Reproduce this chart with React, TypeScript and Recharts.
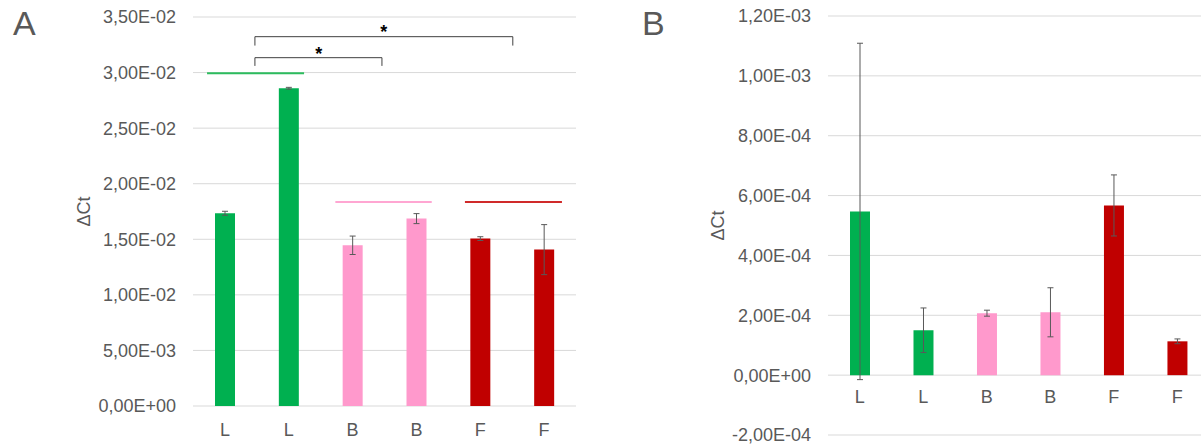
import React from 'react';
import {
  ComposedChart,
  Bar,
  Cell,
  ErrorBar,
  XAxis,
  YAxis,
  CartesianGrid,
  ReferenceLine,
  ReferenceDot,
} from 'recharts';

const labels = ['L', 'L', 'B', 'B', 'F', 'F'];
const barColors = ['#00b050', '#00b050', '#ff99cc', '#ff99cc', '#c00000', '#c00000'];

// panel A
const valuesA = [0.01734, 0.02859, 0.01446, 0.01686, 0.01506, 0.01407];
const errorsA = [0.00018, 0.00008, 0.00083, 0.00045, 0.00017, 0.00225];
const ticksA = [0, 0.005, 0.01, 0.015, 0.02, 0.025, 0.03, 0.035];
const levelsA = [
  { from: -0.28, to: 1.24, y: 0.02994 },
  { from: 1.73, to: 3.24, y: 0.01836 },
  { from: 3.76, to: 5.28, y: 0.01836 },
];
const levelColors = ['#2cbc5e', '#ffa6d2', '#d02a2a'];
const brackets = [
  { from: 0.47, to: 2.46, top: 0.03134, foot: 0.0306 },
  { from: 0.47, to: 4.51, top: 0.03323, foot: 0.03243 },
];
const stars = [
  { x: 1.47, y: 0.03167 },
  { x: 2.49, y: 0.03372 },
];

// panel B
const valuesB = [5.47e-4, 1.5e-4, 2.07e-4, 2.1e-4, 5.67e-4, 1.13e-4];
const errorsB = [5.62e-4, 0.745e-4, 0.1e-4, 0.82e-4, 1.02e-4, 0.08e-4];
const ticksB = [-2e-4, 0, 2e-4, 4e-4, 6e-4, 8e-4, 1e-3, 1.2e-3];

const dataA = labels.map((name, i) => ({ x: i, name, value: valuesA[i], err: errorsA[i] }));
const dataB = labels.map((name, i) => ({ x: i, name, value: valuesB[i], err: errorsB[i] }));
const xTicks = labels.map((_, i) => i);

// excel style 0,00E+00
const sci = (v: number) => {
  const [m, e] = v.toExponential(2).split('e');
  const ex = parseInt(e, 10);
  return `${m.replace('.', ',')}E${ex < 0 ? '-' : '+'}${String(Math.abs(ex)).padStart(2, '0')}`;
};

const grey = '#595959';
const tickStyle = { fill: grey, fontSize: 18 };
const font = '"Liberation Sans", Arial, sans-serif';

const panelLetter = (text: string, left: number) => (
  <div
    style={{
      position: 'absolute',
      left,
      top: 6,
      fontSize: 34,
      lineHeight: '34px',
      color: grey,
    }}
  >
    {text}
  </div>
);

export default function App() {
  return (
    <div style={{ position: 'absolute', left: 0, top: 0, width: 1201, height: 444, fontFamily: font, background: '#fff' }}>
      {panelLetter('A', 13)}
      {panelLetter('B', 642)}

      <div style={{ position: 'absolute', left: 0, top: 0 }}>
        <ComposedChart width={600} height={444} data={dataA} margin={{ top: 17, right: 24, bottom: 8, left: 0 }}>
          <CartesianGrid vertical={false} stroke="#d9d9d9" />
          <XAxis
            type="number"
            dataKey="x"
            domain={[-0.5, 5.5]}
            ticks={xTicks}
            interval={0}
            tickFormatter={(i: number) => labels[i]}
            axisLine={false}
            tickLine={false}
            tickSize={0}
            tickMargin={17}
            height={30}
            tick={tickStyle}
          />
          <YAxis
            domain={[0, 0.035]}
            ticks={ticksA}
            interval={0}
            tickFormatter={sci}
            width={193}
            axisLine={false}
            tickLine={false}
            tickSize={0}
            tickMargin={17}
            tick={tickStyle}
            label={{ value: 'ΔCt', angle: -90, position: 'center', dx: -12.5, fill: grey, fontSize: 18 }}
          />
          <Bar dataKey="value" barSize={20} isAnimationActive={false}>
            {dataA.map((d, i) => (
              <Cell key={d.x} fill={barColors[i]} />
            ))}
            <ErrorBar dataKey="err" width={3} stroke={grey} strokeWidth={1} isAnimationActive={false} />
          </Bar>

          {/* group level lines */}
          {levelsA.map((l, i) => (
            <ReferenceLine
              key={'lv' + i}
              segment={[{ x: l.from, y: l.y }, { x: l.to, y: l.y }]}
              stroke={levelColors[i]}
              strokeWidth={2}
            />
          ))}

          {/* significance brackets */}
          {brackets.map((b, i) => [
            <ReferenceLine key={'bt' + i} segment={[{ x: b.from, y: b.top }, { x: b.to, y: b.top }]} stroke="#404040" />,
            <ReferenceLine key={'bl' + i} segment={[{ x: b.from, y: b.top }, { x: b.from, y: b.foot }]} stroke="#404040" />,
            <ReferenceLine key={'br' + i} segment={[{ x: b.to, y: b.top }, { x: b.to, y: b.foot }]} stroke="#404040" />,
          ])}
          {stars.map((s, i) => (
            <ReferenceDot
              key={'st' + i}
              x={s.x}
              y={s.y}
              r={0}
              fill="none"
              stroke="none"
              label={{ value: '*', position: 'center', fill: '#000', fontSize: 18, fontWeight: 'bold' }}
            />
          ))}
        </ComposedChart>
      </div>

      <div style={{ position: 'absolute', left: 600, top: 0 }}>
        <ComposedChart width={601} height={444} data={dataB} margin={{ top: 16, right: 0, bottom: 9, left: 0 }}>
          <CartesianGrid vertical={false} stroke="#d9d9d9" />
          <XAxis type="number" dataKey="x" domain={[-0.5, 5.375]} hide />
          <YAxis
            domain={[-2e-4, 1.2e-3]}
            ticks={ticksB}
            interval={0}
            tickFormatter={sci}
            width={228}
            axisLine={false}
            tickLine={false}
            tickSize={0}
            tickMargin={17}
            tick={tickStyle}
            label={{ value: 'ΔCt', angle: -90, position: 'center', dx: 3.6, fill: grey, fontSize: 18 }}
          />
          <Bar dataKey="value" barSize={20} isAnimationActive={false}>
            {dataB.map((d, i) => (
              <Cell key={d.x} fill={barColors[i]} />
            ))}
            <ErrorBar dataKey="err" width={3} stroke={grey} strokeWidth={1} isAnimationActive={false} />
          </Bar>
          {/* category labels sit on the zero line */}
          {dataB.map((d) => (
            <ReferenceDot
              key={'lb' + d.x}
              x={d.x}
              y={0}
              r={0}
              fill="none"
              stroke="none"
              label={{ value: d.name, position: 'bottom', offset: 15, fill: grey, fontSize: 18 }}
            />
          ))}
        </ComposedChart>
      </div>
    </div>
  );
}
